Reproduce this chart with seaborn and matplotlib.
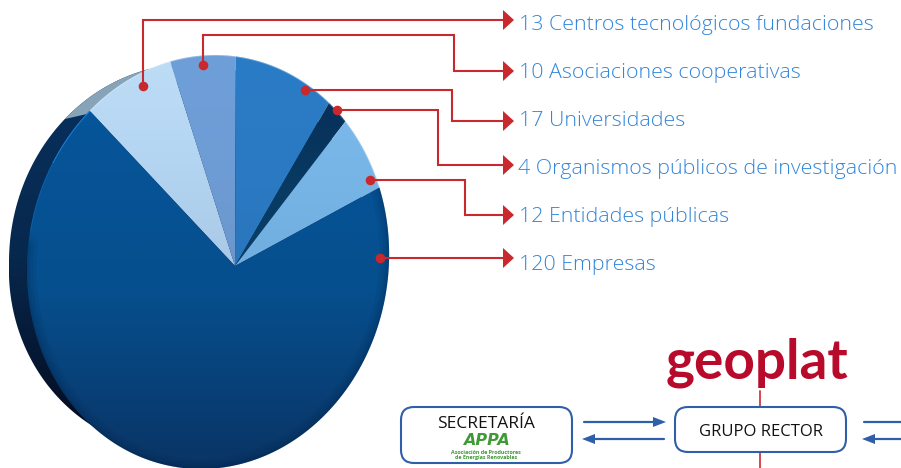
import numpy as np
import matplotlib
matplotlib.use('Agg')
import matplotlib.pyplot as plt
import seaborn as sns
from matplotlib.colors import LinearSegmentedColormap
from matplotlib.patches import FancyBboxPatch, Polygon

# chart data, same order as the labels
categories = ['Centros tecnológicos fundaciones', 'Asociaciones cooperativas', 'Universidades',
              'Organismos públicos de investigación', 'Entidades públicas', 'Empresas']
counts = [13, 10, 17, 4, 12, 120]
top_colors = ['#bddcf6', '#6f9fd9', '#2a7cc6', '#07305a', '#7ab8ea', '#06559a']
mid_colors = ['#b4d5f2', '#6e9cd5', '#2a7ac3', '#083a62', '#76b4e6', '#064f8e']
bottom_colors = ['#a9c9e6', '#6b97cc', '#2a76bd', '#0a3f68', '#70aee0', '#0a3465']

# where the labels and leaders sit (pixels)
label_y = [30, 78, 126, 174, 222, 270]
arrow_y = [20, 71, 121, 165, 215, 258]
leaders = [[(143, 86), (143, 20), (505, 20)],
           [(203, 65), (203, 35), (454, 35), (454, 71), (505, 71)],
           [(305, 90), (452, 90), (452, 121), (505, 121)],
           [(337, 110), (438, 110), (438, 165), (505, 165)],
           [(370, 180), (465, 180), (465, 215), (505, 215)],
           [(380, 258), (505, 258)]]

# pie outline in the picture: tilted disc, apex away from the ellipse centre
cx, cy, rx, ry = 208, 262, 181, 207
tilt = 27 / 181
shear = 7
start_angle = 139
red = '#c9282c'
blue = '#2f5fa8'
green = '#3f9a35'

sns.set_theme(style='white')
plt.rcParams['font.family'] = ['Open Sans', 'DejaVu Sans']

fig = plt.figure(figsize=(9.01, 4.68), dpi=100)
ax = fig.add_axes([0, 0, 1, 1])


def disc(phi):
    # point of the unit disc to picture pixels, with the tilt applied
    c, s = np.cos(phi), np.sin(phi)
    den = 1 + tilt * c
    up = s * np.sqrt(1 - tilt ** 2) / den
    return cx + rx * (c + tilt) / den + shear * up, cy - ry * up


def shade(xy, colors, zorder):
    cmap = LinearSegmentedColormap.from_list('g', colors)
    x0, y0 = xy.min(axis=0)
    x1, y1 = xy.max(axis=0)
    im = ax.imshow(np.linspace(0, 1, 128)[:, None], cmap=cmap, aspect='auto',
                   extent=(x0, x1, y1, y0), zorder=zorder, interpolation='bilinear')
    im.set_clip_path(Polygon(xy, transform=ax.transData))


# the dark side of the disc
t = np.radians(np.linspace(0, 360, 400))
low = np.minimum(np.sin(t), 0)
back = np.column_stack([190 + rx * np.cos(t) + shear * low,
                        cy - np.where(np.sin(t) > 0, 198, 190) * np.sin(t)])
shade(back, ['#07315f', '#07284d', '#04081a'], 1)
grey = ax.fill(back[:, 0], back[:, 1], color='#86a3b8', zorder=1.5, lw=0)[0]
grey.set_clip_path(Polygon([(0, 0), (400, 0), (87, 114), (65, 119), (0, 135)], transform=ax.transData))

# the slices, clockwise
edges = start_angle - np.concatenate([[0], np.cumsum(counts)]) / np.sum(counts) * 360
apex = np.array([cx + rx * tilt, 266])
for i in range(len(counts)):
    phi = np.radians(np.linspace(edges[i], edges[i + 1], 200))
    rim_x, rim_y = disc(phi)
    xy = np.vstack([apex, np.column_stack([rim_x, rim_y])])
    shade(xy, [top_colors[i], mid_colors[i], bottom_colors[i]], 2)
    clip = Polygon(xy, transform=ax.transData)
    if i == 5:
        for lw in [14, 9, 5, 2.5]:
            ax.plot(rim_x[:170], rim_y[:170], color='#041f40', lw=lw, alpha=0.08, zorder=3, clip_path=clip)
        ax.plot(rim_x[-14:], rim_y[-14:], color='#1a86de', lw=1.4, alpha=0.9, zorder=3, clip_path=clip)
        ax.plot(rim_x[-28:-13], rim_y[-28:-13], color='#1a86de', lw=1.2, alpha=0.35, zorder=3, clip_path=clip)
    else:
        ax.plot(rim_x, rim_y, color='white', lw=1.2, alpha=0.3, zorder=3, clip_path=clip)

# leaders, dots, arrow heads and labels
for i, path in enumerate(leaders):
    px, py = zip(*path)
    ax.plot(px, py, color=red, lw=1.5, zorder=4, solid_joinstyle='miter')
    ax.fill([503, 514, 503], [arrow_y[i] - 10, arrow_y[i], arrow_y[i] + 10], color=red, lw=0, zorder=4)
    ax.text(519 if counts[i] != 4 else 518, label_y[i], f'{counts[i]} {categories[i]}', fontsize=15.4,
            color='#3285da', fontweight='light', va='baseline', ha='left', zorder=5)
sns.scatterplot(x=[p[0][0] for p in leaders], y=[p[0][1] for p in leaders], color=red, s=48,
                linewidth=0, zorder=5, ax=ax, legend=False)

# small organisation chart at the bottom right
for x0, x1, y0, y1 in [(401, 572, 407, 463), (675, 846, 407, 452)]:
    ax.add_patch(FancyBboxPatch((x0 + 13, y0 + 13), x1 - x0 - 26, y1 - y0 - 26, boxstyle='round,pad=13',
                                fc='white', ec=blue, lw=1.5, zorder=4))
ax.plot([760, 760], [391, 407], color='#d8454a', lw=1.4, zorder=3)
ax.plot([760, 760], [452, 468], color='#d8454a', lw=1.4, zorder=3)
for x0, x1, y, head in [(584, 666, 422, 1), (664, 582, 439, -1), (864, 930, 422, 1), (901, 862, 439, -1)]:
    ax.plot([x0, x1 - head * 8], [y, y], color=blue, lw=1.6, zorder=3)
    ax.fill([x1, x1 - head * 13, x1 - head * 13], [y, y - 5, y + 5], color=blue, lw=0, zorder=3)

ax.text(757, 379, 'geoplat', fontsize=39.5, fontweight='bold', family=['Lato', 'DejaVu Sans'], color='#b80a2b',
        ha='center', va='baseline', zorder=5)
ax.text(486, 428, 'SECRETARÍA', fontsize=12.5, color='#111111', ha='center', va='baseline', zorder=5)
ax.text(761, 436, 'GRUPO RECTOR', fontsize=12, color='#111111', ha='center', va='baseline', zorder=5)
ax.text(486, 445, 'APPA', fontsize=11.5, fontweight='bold', style='italic', family=['DejaVu Sans'], color=green,
        ha='center', va='baseline', zorder=5)
ax.text(486, 454, 'Asociación de Productores', fontsize=3.9, fontweight='bold', color=green, ha='center',
        va='baseline', zorder=5)
ax.text(486, 459, 'de Energías Renovables', fontsize=3.9, fontweight='bold', color=green, ha='center',
        va='baseline', zorder=5)

ax.set_xlim(0, 901)
ax.set_ylim(468, 0)
ax.axis('off')
fig.savefig('out.png', dpi=100)
